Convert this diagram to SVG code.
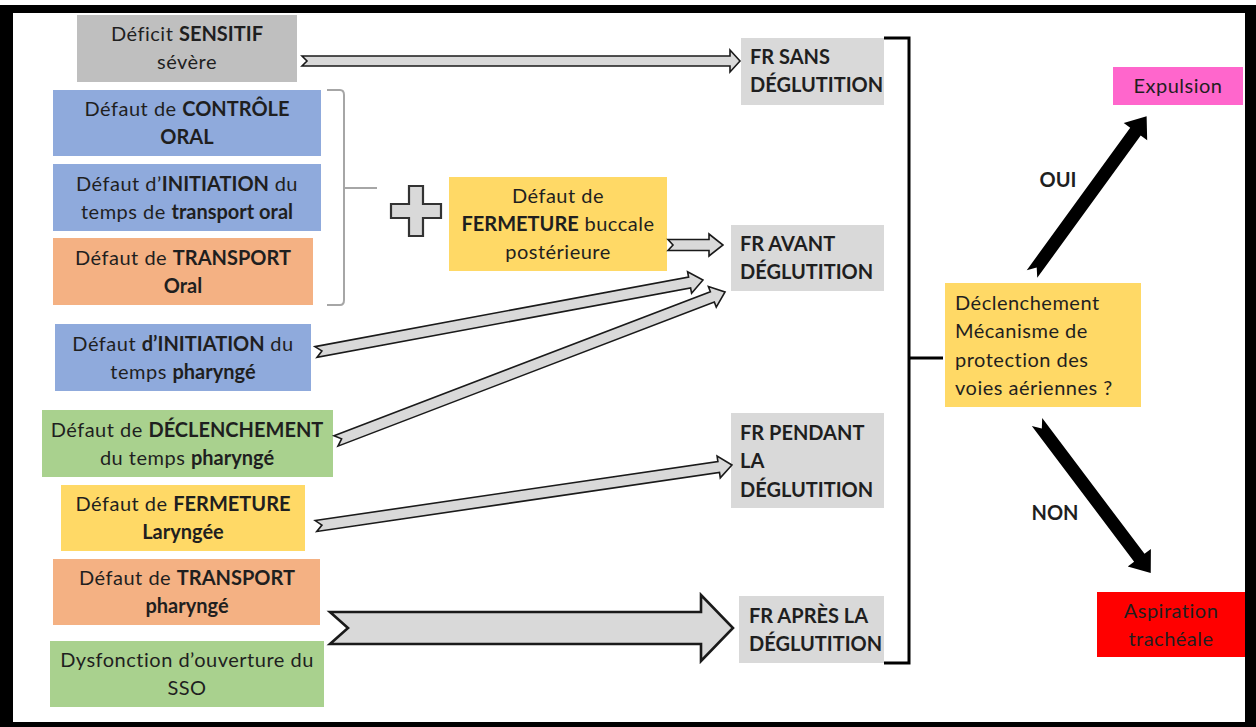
<svg xmlns="http://www.w3.org/2000/svg" width="1256" height="727" viewBox="0 0 1256 727">
<style>
text{font-family:Lato,"Liberation Sans",sans-serif;font-size:20px;fill:#1f1f1f;letter-spacing:0.5px}
.c{text-anchor:middle}
.b{font-weight:bold;letter-spacing:0}
.blk{fill:#d9d9d9;stroke:#1a1a1a;stroke-width:1.6;stroke-linejoin:miter}
.gray{fill:#bfbfbf}.blue{fill:#8faadc}.orange{fill:#f4b183}.green{fill:#a9d18e}.yellow{fill:#ffd966}.fr{fill:#d9d9d9}
</style>
<rect x="0" y="5" width="1256" height="722" fill="#000"/>
<rect x="13" y="13" width="1232" height="709" fill="#fff"/>

<g id="n-sensitif"><rect class="gray" x="77" y="15" width="220" height="67"/>
<text class="c" x="187" y="41">Déficit <tspan class="b">SENSITIF</tspan></text><text class="c" x="187" y="69">sévère</text></g>
<g id="n-controle"><rect class="blue" x="53" y="90" width="268" height="66"/>
<text class="c" x="187" y="116">Défaut de <tspan class="b">CONTRÔLE</tspan></text><text class="c b" x="187" y="144">ORAL</text></g>
<g id="n-init-oral"><rect class="blue" x="53" y="164" width="268" height="67"/>
<text class="c" x="187" y="191">Défaut d’<tspan class="b">INITIATION</tspan> du</text><text class="c" x="187" y="219">temps de <tspan class="b">transport oral</tspan></text></g>
<g id="n-transport-oral"><rect class="orange" x="53" y="238" width="260" height="67"/>
<text class="c" x="183" y="265">Défaut de <tspan class="b">TRANSPORT</tspan></text><text class="c b" x="183" y="293">Oral</text></g>
<g id="n-init-phar"><rect class="blue" x="55" y="324" width="256" height="67"/>
<text class="c" x="183" y="351">Défaut <tspan class="b">d’INITIATION</tspan> du</text><text class="c" x="183" y="379">temps <tspan class="b">pharyngé</tspan></text></g>
<g id="n-declench"><rect class="green" x="42" y="410" width="291" height="67"/>
<text class="c" x="187" y="437">Défaut de <tspan class="b">DÉCLENCHEMENT</tspan></text><text class="c" x="187" y="465">du temps <tspan class="b">pharyngé</tspan></text></g>
<g id="n-ferm-lar"><rect class="yellow" x="61" y="485" width="244" height="66"/>
<text class="c" x="183" y="511">Défaut de <tspan class="b">FERMETURE</tspan></text><text class="c b" x="183" y="539">Laryngée</text></g>
<g id="n-transport-phar"><rect class="orange" x="53" y="559" width="267" height="66"/>
<text class="c" x="187" y="585">Défaut de <tspan class="b">TRANSPORT</tspan></text><text class="c b" x="187" y="613">pharyngé</text></g>
<g id="n-sso"><rect class="green" x="50" y="641" width="274" height="66"/>
<text class="c" x="187" y="667">Dysfonction d’ouverture du</text><text class="c" x="187" y="695">SSO</text></g>

<g id="n-plus"><path d="M409,186 H423 V204 H441 V218 H423 V236 H409 V218 H391 V204 H409 Z" fill="#d9d9d9" stroke="#333" stroke-width="2.2"/></g>
<g id="n-ferm-bucc"><rect class="yellow" x="449" y="177" width="218" height="94"/>
<text class="c" x="558" y="203">Défaut de</text><text class="c" x="558" y="231"><tspan class="b">FERMETURE</tspan> buccale</text><text class="c" x="558" y="259">postérieure</text></g>

<g id="n-fr-sans"><rect class="fr" x="741" y="38" width="143" height="67"/>
<text class="b" x="750" y="64">FR SANS</text><text class="b" x="750" y="92">DÉGLUTITION</text></g>
<g id="n-fr-avant"><rect class="fr" x="731" y="225" width="153" height="66"/>
<text class="b" x="740" y="251">FR AVANT</text><text class="b" x="740" y="279">DÉGLUTITION</text></g>
<g id="n-fr-pendant"><rect class="fr" x="731" y="413" width="153" height="95"/>
<text class="b" x="740" y="440">FR PENDANT</text><text class="b" x="740" y="468">LA</text><text class="b" x="740" y="497">DÉGLUTITION</text></g>
<g id="n-fr-apres"><rect class="fr" x="739" y="596" width="145" height="67"/>
<text class="b" x="749" y="623">FR APRÈS LA</text><text class="b" x="749" y="651">DÉGLUTITION</text></g>

<g id="n-question"><rect class="yellow" x="945" y="283" width="196" height="124"/>
<text x="955" y="310">Déclenchement</text><text x="955" y="338">Mécanisme de</text><text x="955" y="367">protection des</text><text x="955" y="395">voies aériennes ?</text></g>
<g id="n-expulsion"><rect x="1113" y="67" width="130" height="38" fill="#ff66cc"/>
<text class="c" x="1178" y="93">Expulsion</text></g>
<g id="n-aspiration"><rect x="1097" y="592" width="148" height="65" fill="#ff0000"/>
<text class="c" x="1171" y="618">Aspiration</text><text class="c" x="1171" y="646">trachéale</text></g>

<g id="connectors">
<path d="M327,90 H340 Q344,90 344,95 V300 Q344,305 340,305 H327 M344,188 H377" fill="none" stroke="#a6a6a6" stroke-width="2"/>
<path d="M884,38 H909 V663 H884 M909,358 H943" fill="none" stroke="#000" stroke-width="3"/>
<polygon class="blk" transform="translate(302,61)" points="0,-5 428,-5 428,-11 438,0 428,11 428,5 0,5 5,0"/>
<polygon class="blk" transform="translate(668,245)" points="0,-5.5 41,-5.5 41,-11 55,0 41,11 41,5.5 0,5.5 5,0"/>
<polygon class="blk" transform="translate(316,352) rotate(-10.54)" points="0,-5.5 380,-5.5 380,-11 393.6,0 380,11 380,5.5 0,5.5 6,0"/>
<polygon class="blk" transform="translate(336,441) rotate(-20.96)" points="0,-5.5 403,-5.5 403,-11 416.6,0 403,11 403,5.5 0,5.5 6,0"/>
<polygon class="blk" transform="translate(316,526) rotate(-8.34)" points="0,-5.5 407,-5.5 407,-11 420.4,0 407,11 407,5.5 0,5.5 6,0"/>
<polygon class="blk" style="stroke-width:2.6" transform="translate(330,628)" points="0,-16 371,-16 371,-33 403,0 371,33 371,16 0,16 18,0"/>
<polygon fill="#000" transform="translate(1032,274) rotate(-54)" points="0,-6.5 176,-6.5 176,-14.5 195,0 176,14.5 176,6.5 0,6.5 8,0"/>
<polygon fill="#000" transform="translate(1037,422) rotate(53)" points="0,-6.5 170,-6.5 170,-14.5 189,0 170,14.5 170,6.5 0,6.5 8,0"/>
<text class="b c" x="1058" y="187">OUI</text>
<text class="b c" x="1055" y="520">NON</text>
</g>
</svg>
